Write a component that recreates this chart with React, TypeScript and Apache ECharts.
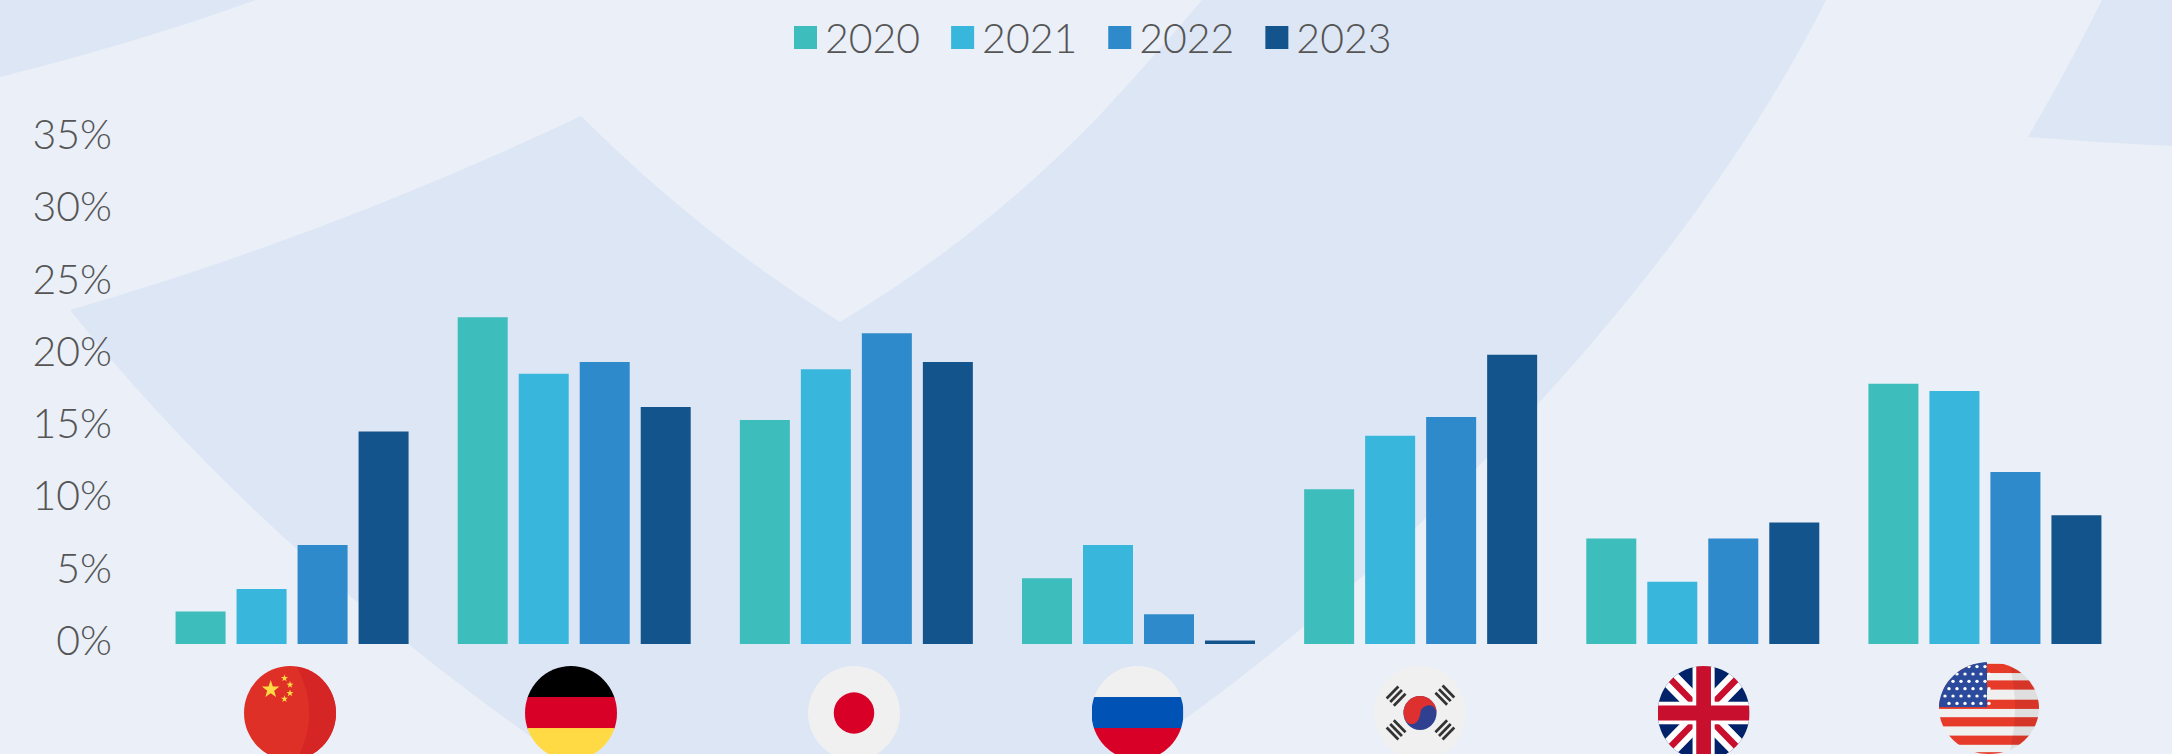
import React, { useEffect, useRef } from "react";
import * as echarts from "echarts";

const categories = ["China", "Germany", "Japan", "Russia", "South Korea", "United Kingdom", "United States"];
const seriesNames = ["2020", "2021", "2022", "2023"];
const values2020 = [2.25, 22.6, 15.5, 4.55, 10.7, 7.3, 18.0];
const values2021 = [3.8, 18.7, 19.0, 6.85, 14.4, 4.3, 17.5];
const values2022 = [6.85, 19.5, 21.5, 2.05, 15.7, 7.3, 11.9];
const values2023 = [14.7, 16.4, 19.5, 0.25, 20.0, 8.4, 8.9];
const colors = ["#3DBDBB", "#38B6DC", "#2E8ACB", "#14548C"];
const BG = "#EAEFF8";
const SHAPE = "#DDE6F4";
const FONT = "Lato";

const shapeA = "M0 0 L256 0 Q130 45 0 77 Z";
const shapeB =
  "M70 310 Q330 235 581 116 Q700 235 840 322 Q985 235 1100 115 Q1160 50 1202 0 L1826 0 C1690 270 1420 560 1135 754 L555 754 Q260 547 70 310 Z";
const shapeC = "M2102 0 L2172 0 L2172 146 Q2100 143 2028 137 Q2070 65 2102 0 Z";
echarts.graphic.registerShape("shapeA", echarts.graphic.extendPath(shapeA as any, {}) as any);
echarts.graphic.registerShape("shapeB", echarts.graphic.extendPath(shapeB as any, {}) as any);
echarts.graphic.registerShape("shapeC", echarts.graphic.extendPath(shapeC as any, {}) as any);

const star = (cx: number, cy: number, r: number, rot = 0) => {
  const pts: string[] = [];
  for (let i = 0; i < 10; i++) {
    const rr = i % 2 ? r * 0.4 : r;
    const a = (-90 + rot + i * 36) * (Math.PI / 180);
    pts.push(`${(cx + rr * Math.cos(a)).toFixed(2)},${(cy + rr * Math.sin(a)).toFixed(2)}`);
  }
  return `<polygon points="${pts.join(" ")}" fill="#FFDA44"/>`;
};
const trig = (x: number, y: number, rot: number) =>
  `<g transform="translate(${x} ${y}) rotate(${rot})" fill="#333">` +
  `<rect x="-9" y="-7" width="18" height="3"/><rect x="-9" y="-1.5" width="18" height="3"/><rect x="-9" y="4" width="18" height="3"/></g>`;

const usStars = () => {
  let s = "";
  for (let r = 0; r < 6; r++) for (let c = 0; c < 6; c++) s += `<circle cx="${6 + c * 8 + (r % 2) * 4}" cy="${5 + r * 8}" r="1.7" fill="#fff"/>`;
  return s;
};

const flagBodies: Record<string, string> = {
  China:
    `<rect width="100" height="100" fill="#DE3026"/><path d="M57 0 Q85 50 57 100 L100 100 L100 0 Z" fill="#D62525"/>` +
    star(29, 25, 10) + star(44, 13, 4) + star(50, 20, 4) + star(50, 29, 4) + star(44, 35, 4),
  Germany: `<rect width="100" height="34" fill="#000"/><rect y="33" width="100" height="34" fill="#D80027"/><rect y="66" width="100" height="34" fill="#FFDA44"/>`,
  Japan: `<rect width="100" height="100" fill="#F0F0F0"/><ellipse cx="50" cy="50" rx="22" ry="22" fill="#D80027"/>`,
  Russia: `<rect width="100" height="34" fill="#F0F0F0"/><rect y="33" width="100" height="34" fill="#0052B4"/><rect y="66" width="100" height="34" fill="#D80027"/>`,
  "South Korea":
    `<rect width="100" height="100" fill="#F0F0F0"/><circle cx="50" cy="50" r="18" fill="#2F4090"/>` +
    `<path d="M32 50 A18 18 0 0 1 68 50 Q66 40 58 42 Q50 44 50 52 Q48 62 40 62 Q33 60 32 50 Z" fill="#DF3030"/>` +
    trig(24, 32, -45) + trig(77, 31, 45) + trig(24, 68, 45) + trig(77, 68, -45),
  "United Kingdom":
    `<rect width="100" height="100" fill="#012169"/>` +
    `<path d="M0 0 L100 100 M100 0 L0 100" stroke="#fff" stroke-width="20"/>` +
    `<path d="M14 14 L38 38 M86 14 L62 38 M14 86 L38 62 M86 86 L62 62" stroke="#C8102E" stroke-width="7"/>` +
    `<rect x="38" width="24" height="100" fill="#fff"/><rect y="38" width="100" height="24" fill="#fff"/>` +
    `<rect x="42" width="16" height="100" fill="#C8102E"/><rect y="42" width="100" height="16" fill="#C8102E"/>`,
  "United States":
    `<rect width="100" height="100" fill="#F0F0F0"/>` +
    [2, 20, 41, 60, 80, 98].map((y) => `<rect y="${y}" width="100" height="10" fill="#E73B2A"/>`).join("") +
    `<rect width="48" height="49" fill="#2B4A9B"/>` + usStars() +
    `<path d="M70 0 Q82 50 70 100 L100 100 L100 0 Z" fill="#000" opacity="0.07"/>`,
};

const flagX = [290, 571, 854, 1137.5, 1420, 1703.6, 1989];

const flagUri = (name: string) => {
  const svg =
    `<svg xmlns="http://www.w3.org/2000/svg" width="100" height="100" viewBox="0 0 100 100" preserveAspectRatio="none">` +
    `<defs><clipPath id="c"><circle cx="50" cy="50" r="50"/></clipPath></defs>` +
    `<g clip-path="url(#c)">${flagBodies[name]}</g></svg>`;
  return "data:image/svg+xml;charset=utf-8," + encodeURIComponent(svg);
};

export default function App() {
  const ref = useRef<HTMLDivElement>(null);
  useEffect(() => {
    document.body.style.margin = "0";
    document.body.style.overflow = "hidden";
    const chart = echarts.init(ref.current!, undefined, { renderer: "svg" });
    const allValues = [values2020, values2021, values2022, values2023];
    chart.setOption({
      animation: false,
      backgroundColor: BG,
      graphic: {
        elements: [
          ...["shapeA", "shapeB", "shapeC"].map((t) => ({
            type: t,
            x: 0,
            y: 0,
            silent: true,
            z: -10,
            style: { fill: SHAPE },
          })),
          ...categories.map((c, i) => ({
            type: "image",
            x: flagX[i] - (c === "United States" ? 50 : 46),
            y: c === "United States" ? 662 : 666,
            silent: true,
            style: {
              image: flagUri(c),
              width: c === "United States" ? 100 : 92,
              height: c === "United States" ? 92 : 94,
            },
          })),
        ],
      },
      legend: {
        data: seriesNames,
        top: 12,
        left: 789,
        itemWidth: 23,
        itemHeight: 23,
        itemGap: 31,
        icon: "rect",
        selectedMode: false,
        textStyle: { fontFamily: FONT, fontWeight: 300, fontSize: 41, color: "#555555", padding: [0, 0, 6, 3] },
      },
      grid: { left: 151, width: 1975, top: 138, bottom: 110, containLabel: false },
      xAxis: {
        type: "category",
        data: categories,
        axisLine: { show: false },
        axisTick: { show: false },
        axisLabel: { show: false },
      },
      yAxis: {
        type: "value",
        min: 0,
        max: 35,
        interval: 5,
        splitLine: { show: false },
        axisLine: { show: false },
        axisTick: { show: false },
        axisLabel: {
          formatter: "{value}%",
          margin: 39,
          fontFamily: FONT,
          fontWeight: 300,
          fontSize: 41,
          color: "#555555",
          verticalAlign: "bottom",
          lineHeight: 9,
        },
      },
      series: seriesNames.map((name, i) => ({
        name,
        type: "bar",
        data: allValues[i],
        barWidth: 50,
        barGap: "22%",
        itemStyle: { color: colors[i] },
      })),
    });
    return () => chart.dispose();
  }, []);
  return <div ref={ref} style={{ position: "absolute", left: 0, top: 0, width: 2172, height: 754 }} />;
}
